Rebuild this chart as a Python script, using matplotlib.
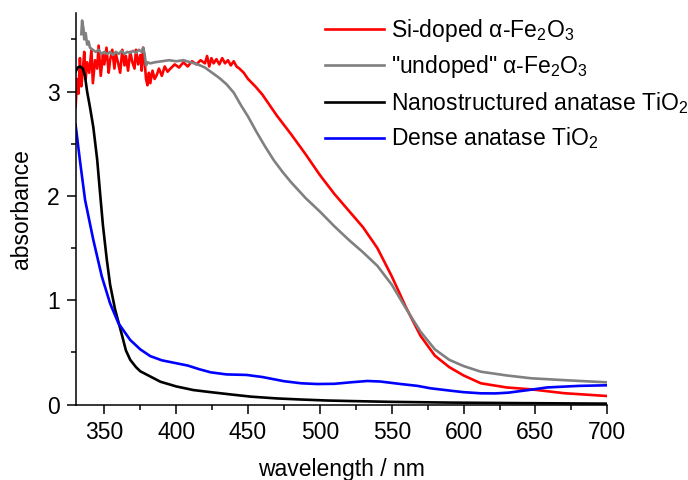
import matplotlib
matplotlib.use('Agg')
import matplotlib.pyplot as plt
from matplotlib.ticker import MultipleLocator

plt.rcParams['font.family'] = ['Liberation Sans', 'DejaVu Sans']
plt.rcParams['mathtext.fontset'] = 'custom'
plt.rcParams['mathtext.rm'] = 'Liberation Sans'
plt.rcParams['mathtext.it'] = 'Liberation Sans'
plt.rcParams['mathtext.bf'] = 'Liberation Sans:bold'

# Si-doped alpha-Fe2O3 (red)
si_wl = [330, 331, 332, 333, 334, 335, 336, 337, 338, 339.5, 341, 342, 343.5, 345, 346, 347.5,
         349, 350, 351.5, 353, 354, 355.5, 357, 358, 359.5, 361, 362.5, 364, 365, 366.5, 368,
         369.5, 371, 372, 373.5, 375, 376, 377, 378, 379, 380, 381, 382, 383.5, 385, 386.5,
         388, 390, 392, 394, 396, 399, 402, 405, 408, 411, 414, 417, 420, 421.5, 423, 424.5,
         426, 428, 430, 432, 434, 436, 438, 440, 442, 444, 447, 450, 455, 460, 465, 470, 480,
         490, 500, 510, 520, 530, 540, 550, 560, 570, 580, 590, 600, 612, 630, 647, 670, 700]
si_abs = [2.85, 3.12, 2.98, 3.32, 3.05, 3.20, 3.38, 3.12, 3.28, 3.18, 3.40, 3.08, 3.30, 3.22, 3.44, 3.15,
          3.35, 3.26, 3.42, 3.18, 3.30, 3.40, 3.22, 3.36, 3.28, 3.18, 3.40, 3.25, 3.34, 3.20, 3.38,
          3.28, 3.22, 3.40, 3.26, 3.35, 3.20, 3.42, 3.30, 3.12, 3.06, 3.18, 3.08, 3.20, 3.12, 3.16,
          3.22, 3.15, 3.24, 3.19, 3.22, 3.26, 3.23, 3.28, 3.24, 3.29, 3.26, 3.30, 3.27, 3.34, 3.24, 3.32,
          3.27, 3.31, 3.26, 3.32, 3.27, 3.30, 3.25, 3.29, 3.24, 3.22, 3.18, 3.12, 3.05, 2.97, 2.87, 2.77, 2.59,
          2.40, 2.20, 2.02, 1.86, 1.70, 1.50, 1.23, 0.93, 0.66, 0.47, 0.36, 0.28, 0.205, 0.165, 0.147, 0.11, 0.083]

# "undoped" alpha-Fe2O3 (gray)
un_wl = [334, 334.5, 335.5, 336, 337, 338, 339, 340, 342, 344, 346, 348, 350, 352, 354, 356,
         358, 360, 362, 364, 366, 368, 370, 372, 374, 376, 377, 378, 379, 380, 382, 385,
         390, 395, 400, 405, 410, 415, 420, 425, 430, 435, 440, 445, 450, 456, 462, 468,
         474, 480, 490, 500, 510, 520, 530, 540, 550, 560, 570, 580, 590, 600, 612, 630,
         647, 670, 700]
un_abs = [3.55, 3.68, 3.60, 3.50, 3.56, 3.45, 3.48, 3.42, 3.40, 3.38, 3.40, 3.36, 3.38, 3.36, 3.38, 3.35,
          3.38, 3.36, 3.39, 3.36, 3.38, 3.37, 3.39, 3.37, 3.40, 3.38, 3.42, 3.36, 3.25, 3.28, 3.27, 3.28,
          3.29, 3.30, 3.29, 3.30, 3.28, 3.26, 3.23, 3.18, 3.13, 3.07, 2.99, 2.87, 2.76, 2.61, 2.47, 2.34,
          2.23, 2.13, 1.98, 1.85, 1.71, 1.58, 1.46, 1.33, 1.15, 0.92, 0.70, 0.53, 0.43, 0.37, 0.316, 0.28,
          0.253, 0.235, 0.214]

# Nanostructured anatase TiO2 (black)
nano_wl = [330, 331.5, 333, 335, 336.5, 338, 340, 342.3, 345, 347, 349, 351.7, 354, 357.5, 362, 365,
           368, 372, 375, 382, 389, 400, 412, 424, 440, 452, 470, 486, 505, 521, 550, 591, 640, 700]
nano_abs = [3.19, 3.23, 3.24, 3.22, 3.15, 3.00, 2.85, 2.66, 2.35, 2.03, 1.72, 1.39, 1.15, 0.91, 0.68, 0.52,
            0.43, 0.36, 0.32, 0.27, 0.22, 0.175, 0.14, 0.12, 0.095, 0.077, 0.06, 0.05, 0.04, 0.035, 0.027, 0.02,
            0.015, 0.01]

# Dense anatase TiO2 (blue)
dense_wl = [330, 333, 336.6, 342.3, 348.2, 354, 359.8, 368, 375, 382, 390, 399, 408, 416, 424, 435,
            449, 460, 475, 487, 498, 510, 522, 533, 542, 555, 568, 577, 591, 600, 612, 622, 631, 645,
            658, 680, 700]
dense_abs = [2.68, 2.34, 1.96, 1.58, 1.23, 0.97, 0.78, 0.62, 0.53, 0.465, 0.425, 0.40, 0.375, 0.34, 0.31, 0.29,
             0.285, 0.265, 0.225, 0.205, 0.198, 0.20, 0.215, 0.227, 0.222, 0.20, 0.18, 0.157, 0.134, 0.12, 0.109,
             0.108, 0.115, 0.14, 0.165, 0.18, 0.186]

fig = plt.figure(figsize=(6.88, 4.8), dpi=100)
ax = fig.add_axes([0.1099, 0.1569, 0.7728, 0.8166])

lw = 1.9
ax.plot(si_wl, si_abs, color='#ff0000', lw=lw, label=r'Si-doped $\alpha$-Fe$_2$O$_3$')
ax.plot(un_wl, un_abs, color='#808080', lw=lw, label=r'"undoped" $\alpha$-Fe$_2$O$_3$')
ax.plot(nano_wl, nano_abs, color='black', lw=lw, label=r'Nanostructured anatase TiO$_2$')
ax.plot(dense_wl, dense_abs, color='#0000ff', lw=lw, label=r'Dense anatase TiO$_2$')

ax.set_xlim(330, 700)
ax.set_ylim(0, 3.755)
ax.spines['top'].set_visible(False)
ax.spines['right'].set_visible(False)
for s in ('left', 'bottom'):
    ax.spines[s].set_linewidth(1.1)

ax.xaxis.set_major_locator(MultipleLocator(50))
ax.xaxis.set_minor_locator(MultipleLocator(25))
ax.yaxis.set_major_locator(MultipleLocator(1))
ax.yaxis.set_minor_locator(MultipleLocator(0.5))
ax.tick_params(which='major', direction='out', length=6.5, width=1.1, labelsize=16.5, pad=5)
ax.tick_params(which='minor', direction='out', length=3.6, width=1.1)

ax.set_xlabel('wavelength / nm', fontsize=16.5, labelpad=10)
ax.set_ylabel('absorbance', fontsize=16.5, labelpad=10)

leg = ax.legend(loc='upper left', bbox_to_anchor=(0.4524, 1.013), frameon=False,
                fontsize=16.5, handlelength=2.55, handletextpad=0.3, labelspacing=0.42,
                borderaxespad=0)

fig.savefig('out.png', dpi=100)
